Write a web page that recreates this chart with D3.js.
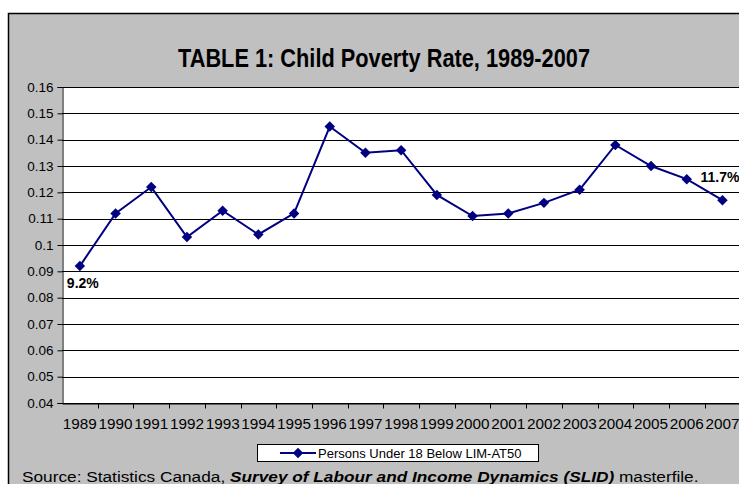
<!DOCTYPE html>
<html>
<head>
<meta charset="utf-8">
<script src="https://cdn.jsdelivr.net/npm/d3@7"></script>
<style>
  html, body { margin: 0; padding: 0; background: #fff; }
  svg { display: block; font-family: "Liberation Sans", Arial, sans-serif; }
</style>
</head>
<body>
<svg id="chart" width="739" height="484"></svg>
<script>
// Child poverty rate (persons under 18 below LIM-AT50), 1989-2007
const years = ["1989","1990","1991","1992","1993","1994","1995","1996","1997","1998",
               "1999","2000","2001","2002","2003","2004","2005","2006","2007"];
const rates = [0.092, 0.112, 0.122, 0.103, 0.113, 0.104, 0.112, 0.145, 0.135, 0.136,
               0.119, 0.111, 0.112, 0.116, 0.121, 0.138, 0.130, 0.125, 0.117];
const yTicks = [0.04, 0.05, 0.06, 0.07, 0.08, 0.09, 0.1, 0.11, 0.12, 0.13, 0.14, 0.15, 0.16];
const valueLabels = [{ year: "1989", text: "9.2%" }, { year: "2007", text: "11.7%" }];
const seriesName = "Persons Under 18 Below LIM-AT50";

const svg = d3.select("#chart");
const navy = "#000080";

// chart area
svg.append("rect")
  .attr("x", 8.5).attr("y", 13.5)
  .attr("width", 745).attr("height", 480)
  .attr("fill", "#c0c0c0")
  .attr("stroke", "#000").attr("stroke-width", 1.5);

// title (condensed to the width of a narrow face)
svg.append("text")
  .attr("x", 384).attr("y", 67)
  .attr("text-anchor", "middle")
  .attr("font-family", "'Liberation Sans Narrow', 'Arial Narrow', 'Liberation Sans', sans-serif")
  .attr("font-size", 25).attr("font-weight", "bold")
  .attr("textLength", 412).attr("lengthAdjust", "spacingAndGlyphs")
  .attr("fill", "#000")
  .text("TABLE 1: Child Poverty Rate, 1989-2007");

const plot = { left: 62, top: 87, bottom: 403, right: 62 + 19 * 35.7 };

const x = d3.scaleBand().domain(years).range([plot.left, plot.right]).padding(0);
const y = d3.scaleLinear().domain([0.04, 0.16]).range([plot.bottom, plot.top]);

// plot area
svg.append("rect")
  .attr("x", plot.left).attr("y", plot.top)
  .attr("width", plot.right - plot.left).attr("height", plot.bottom - plot.top)
  .attr("fill", "#fff");

// horizontal gridlines
svg.append("g")
  .selectAll("line")
  .data(yTicks)
  .join("line")
  .attr("x1", plot.left).attr("x2", plot.right)
  .attr("y1", d => Math.round(y(d)) + 0.5).attr("y2", d => Math.round(y(d)) + 0.5)
  .attr("stroke", "#000").attr("stroke-width", 1);

// y axis
const yAxis = svg.append("g")
  .attr("transform", `translate(${plot.left + 0.5},0)`)
  .call(d3.axisLeft(y).tickValues(yTicks).tickSize(5).tickPadding(4)
    .tickFormat(d => String(+d.toFixed(2))));
yAxis.select(".domain").attr("stroke", "#000");
yAxis.selectAll(".tick line").attr("stroke", "#000");
yAxis.selectAll(".tick text")
  .attr("font-family", "'Liberation Sans', Arial, sans-serif")
  .attr("font-size", 13.5).attr("fill", "#000");

// x axis: ticks between categories, labels centred in each band
const xAxis = svg.append("g")
  .attr("transform", `translate(0,${plot.bottom + 0.5})`)
  .call(d3.axisBottom(x).tickSize(0).tickPadding(15));
xAxis.select(".domain").attr("stroke", "#000");
xAxis.selectAll(".tick text")
  .attr("font-family", "'Liberation Sans', Arial, sans-serif")
  .attr("font-size", 15.3).attr("fill", "#000");
xAxis.selectAll("line.sep")
  .data(years)
  .join("line")
  .attr("class", "sep")
  .attr("x1", d => Math.round(x(d) + x.bandwidth()) + 0.5)
  .attr("x2", d => Math.round(x(d) + x.bandwidth()) + 0.5)
  .attr("y1", 0).attr("y2", 5)
  .attr("stroke", "#000");

// series line and markers
const cx = d => x(d) + x.bandwidth() / 2;
const pts = years.map((yr, i) => [cx(yr), y(rates[i])]);
svg.append("path")
  .attr("d", d3.line()(pts))
  .attr("fill", "none")
  .attr("stroke", navy).attr("stroke-width", 2);

const diamond = d3.symbol().type(d3.symbolDiamond2).size(70);
svg.append("g")
  .selectAll("path")
  .data(pts)
  .join("path")
  .attr("transform", d => `translate(${d[0]},${d[1]})`)
  .attr("d", diamond)
  .attr("fill", navy);

// value labels on first and last points
svg.append("g")
  .selectAll("text")
  .data(valueLabels)
  .join("text")
  .attr("x", d => d.year === "1989" ? cx(d.year) - 13 : cx(d.year) - 22)
  .attr("y", d => {
    const v = rates[years.indexOf(d.year)];
    return d.year === "1989" ? y(v) + 22 : y(v) - 18;
  })
  .attr("font-size", 14).attr("font-weight", "bold").attr("fill", "#000")
  .text(d => d.text);

// legend
const lg = svg.append("g");
lg.append("rect")
  .attr("x", 257.5).attr("y", 444.5).attr("width", 281).attr("height", 17)
  .attr("fill", "#fff").attr("stroke", "#000").attr("stroke-width", 1);
lg.append("line")
  .attr("x1", 280).attr("x2", 316).attr("y1", 453).attr("y2", 453)
  .attr("stroke", navy).attr("stroke-width", 2);
lg.append("path")
  .attr("transform", "translate(298,453)")
  .attr("d", diamond)
  .attr("fill", navy);
lg.append("text")
  .attr("x", 318).attr("y", 458)
  .attr("font-size", 13).attr("fill", "#000")
  .text(seriesName);

// source note, widened horizontally
const src = svg.append("text")
  .attr("transform", "translate(22,482) scale(1.15,1)")
  .attr("font-size", 15).attr("fill", "#000");
src.append("tspan").text("Source: Statistics Canada, ");
src.append("tspan").attr("font-weight", "bold").attr("font-style", "italic")
  .text("Survey of Labour and Income Dynamics (SLID)");
src.append("tspan").text(" masterfile.");
</script>
</body>
</html>
